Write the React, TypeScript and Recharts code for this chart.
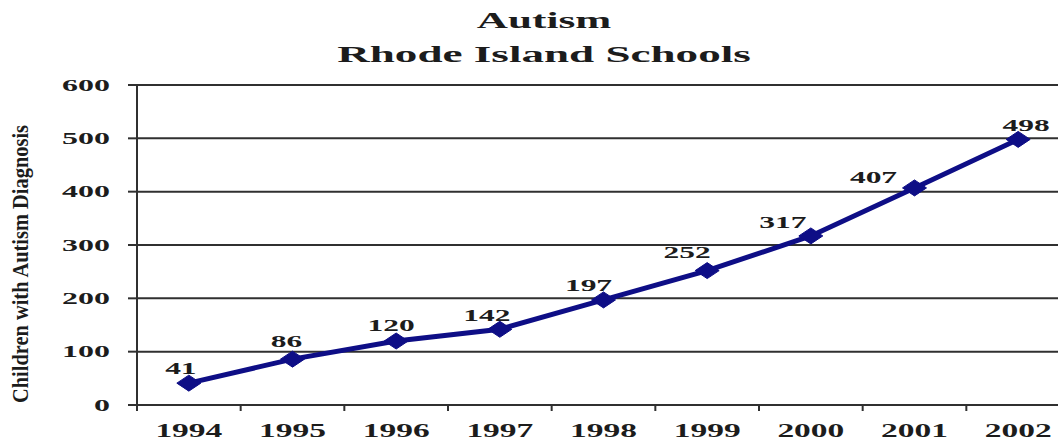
import React from "react";
import {
  LineChart,
  Line,
  XAxis,
  YAxis,
  CartesianGrid,
  LabelList,
  Customized,
} from "recharts";

const years = ["1994", "1995", "1996", "1997", "1998", "1999", "2000", "2001", "2002"];
const diagnosed = [41, 86, 120, 142, 197, 252, 317, 407, 498];
const yTicks = [0, 100, 200, 300, 400, 500, 600];
const titleLines = ["Autism", "Rhode Island Schools"];
const yAxisTitle = "Children with Autism Diagnosis";

// per-label nudges (px) so the value tags sit where they read best
const labelDx = [-8, -6, -5, -13, -15, -20, -28, -41, 8];
const labelDy = [9, 12, 10, 8, 9, 13, 8, 5, 8];

const data = years.map((year, i) => ({ year, count: diagnosed[i] }));

const NAVY = "#0e0e86";
const INK = "#1c1c1c";
const RULE = "#303030";
const FONT = '"Liberation Serif", "Times New Roman", serif';

const CHART_W = 1075;
const CHART_H = 441;
const PLOT_LEFT = 137;
const PLOT_RIGHT = 1070;
const PLOT_TOP = 85;
const X_AXIS_H = 36;
const PLOT_BOTTOM = CHART_H - X_AXIS_H;
const STEP = (PLOT_RIGHT - PLOT_LEFT) / years.length;

type WideProps = {
  x: number;
  y: number;
  size: number;
  sx: number;
  anchor?: "start" | "middle" | "end";
  dy?: string;
  children: React.ReactNode;
};

// bold serif text stretched sideways
function Wide({ x, y, size, sx, anchor = "middle", dy, children }: WideProps) {
  return (
    <text
      transform={`translate(${x},${y}) scale(${sx},1)`}
      textAnchor={anchor}
      dy={dy}
      fontFamily={FONT}
      fontWeight="bold"
      fontSize={size}
      fill={INK}
    >
      {children}
    </text>
  );
}

function YearTick(props: any) {
  const { x, payload, index } = props;
  const left = x - STEP / 2;
  return (
    <g>
      <line x1={left} x2={left} y1={PLOT_BOTTOM} y2={PLOT_BOTTOM + 6} stroke={RULE} strokeWidth={2} />
      {index === years.length - 1 && (
        <line x1={x + STEP / 2} x2={x + STEP / 2} y1={PLOT_BOTTOM} y2={PLOT_BOTTOM + 6} stroke={RULE} strokeWidth={2} />
      )}
      <Wide x={x} y={437} size={18} sx={1.86}>
        {payload.value}
      </Wide>
    </g>
  );
}

function CountTick(props: any) {
  const { y, payload } = props;
  return (
    <Wide x={110} y={y} size={16} sx={2} anchor="end" dy="0.36em">
      {payload.value}
    </Wide>
  );
}

function Diamond(props: any) {
  const { cx, cy, index } = props;
  const w = 12;
  const h = 8;
  return (
    <polygon
      key={`d-${index}`}
      points={`${cx - w},${cy} ${cx},${cy - h} ${cx + w},${cy} ${cx},${cy + h}`}
      fill={NAVY}
      stroke={NAVY}
      strokeWidth={1}
    />
  );
}

function ValueTag(props: any) {
  const { x, y, value, index } = props;
  return (
    <Wide x={x + labelDx[index]} y={y - labelDy[index]} size={17} sx={1.85}>
      {value}
    </Wide>
  );
}

function Headings() {
  return (
    <g>
      <Wide x={544} y={28} size={24} sx={1.8}>
        {titleLines[0]}
      </Wide>
      <Wide x={544} y={62} size={24} sx={1.88}>
        {titleLines[1]}
      </Wide>
      <text
        transform="translate(28,264) rotate(-90)"
        textAnchor="middle"
        fontFamily={FONT}
        fontWeight="bold"
        fontSize={23}
        textLength={278}
        lengthAdjust="spacingAndGlyphs"
        fill={INK}
      >
        {yAxisTitle}
      </text>
    </g>
  );
}

export default function App() {
  return (
    <div
      style={{
        position: "absolute",
        left: 0,
        top: 0,
        width: 1058,
        height: 441,
        overflow: "hidden",
        background: "#fff",
      }}
    >
      <LineChart
        width={CHART_W}
        height={CHART_H}
        data={data}
        margin={{ top: PLOT_TOP, right: CHART_W - PLOT_RIGHT, left: 0, bottom: 0 }}
      >
        <CartesianGrid vertical={false} stroke={RULE} strokeWidth={2} />
        <XAxis
          dataKey="year"
          height={X_AXIS_H}
          padding={{ left: STEP / 2, right: STEP / 2 }}
          axisLine={{ stroke: RULE, strokeWidth: 2 }}
          tickLine={false}
          tick={<YearTick />}
          interval={0}
        />
        <YAxis
          width={PLOT_LEFT}
          domain={[0, 600]}
          ticks={yTicks}
          interval={0}
          tickSize={9}
          axisLine={{ stroke: RULE, strokeWidth: 2 }}
          tickLine={{ stroke: RULE, strokeWidth: 2 }}
          tick={<CountTick />}
        />
        <Line
          type="linear"
          dataKey="count"
          stroke={NAVY}
          strokeWidth={5}
          dot={Diamond}
          activeDot={false}
          isAnimationActive={false}
        >
          <LabelList dataKey="count" content={ValueTag} />
        </Line>
        <Customized component={Headings} />
      </LineChart>
    </div>
  );
}
